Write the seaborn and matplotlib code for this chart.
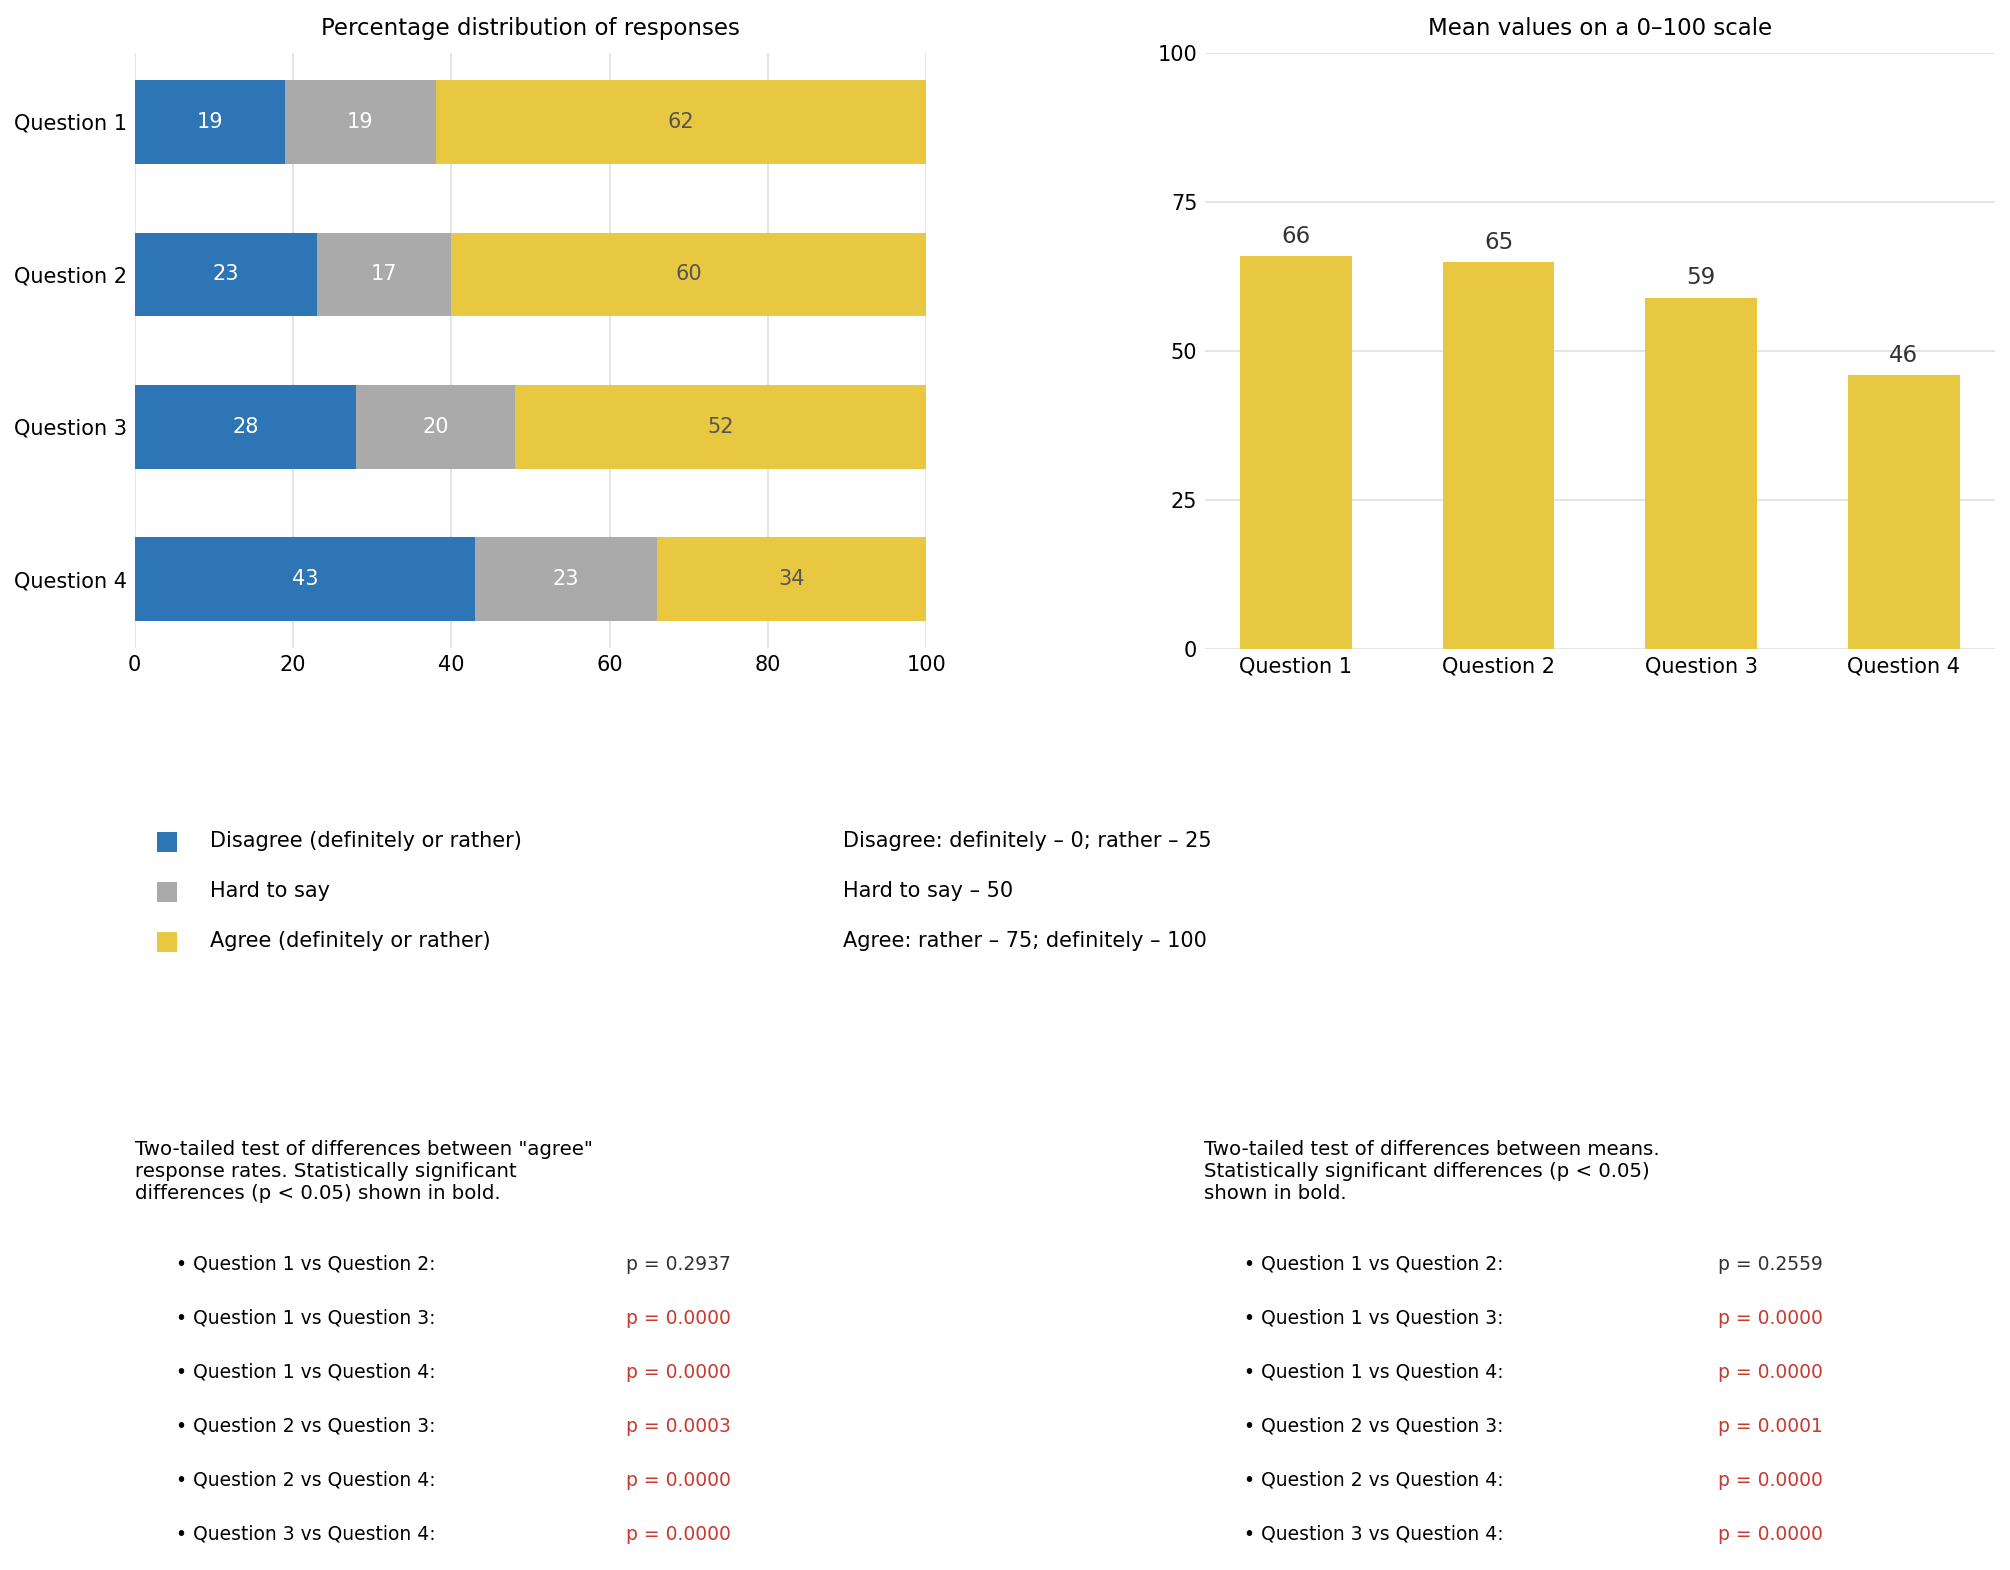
import numpy as np
import pandas as pd
import seaborn as sns
import matplotlib.pyplot as plt

# data
questions = ['Question 1', 'Question 2', 'Question 3', 'Question 4']
disagree = [19, 23, 28, 43]
hard_to_say = [19, 17, 20, 23]
agree = [62, 60, 52, 34]
means = [66, 65, 59, 46]

legend_labels = ['Disagree (definitely or rather)', 'Hard to say', 'Agree (definitely or rather)']
scale_labels = ['Disagree: definitely – 0; rather – 25', 'Hard to say – 50',
                'Agree: rather – 75; definitely – 100']

pairs = [('Question 1', 'Question 2'), ('Question 1', 'Question 3'), ('Question 1', 'Question 4'),
         ('Question 2', 'Question 3'), ('Question 2', 'Question 4'), ('Question 3', 'Question 4')]
p_agree = [0.2937, 0.0000, 0.0000, 0.0003, 0.0000, 0.0000]
p_means = [0.2559, 0.0000, 0.0000, 0.0001, 0.0000, 0.0000]

note_agree = ('Two-tailed test of differences between "agree"\n'
              'response rates. Statistically significant\n'
              'differences (p < 0.05) shown in bold.')
note_means = ('Two-tailed test of differences between means.\n'
              'Statistically significant differences (p < 0.05)\n'
              'shown in bold.')

BLUE = '#2E75B6'
GRAY = '#AAAAAA'
YELLOW = '#E8C840'
RED = '#C8392F'

sns.set_theme(style='whitegrid')
plt.rcParams['font.family'] = ['DejaVu Sans']
plt.rcParams['xtick.major.size'] = 0
plt.rcParams['ytick.major.size'] = 0
plt.rcParams['xtick.major.pad'] = 3.5
plt.rcParams['ytick.major.pad'] = 3.5

fig = plt.figure(figsize=(13.4, 10.4667), dpi=150)
fig.patch.set_facecolor('white')

# ---- left: stacked percentage bars
ax1 = fig.add_axes([0.0670, 0.5873, 0.3939, 0.3787])
df = pd.DataFrame({'question': questions, 'disagree': disagree,
                   'hard': hard_to_say, 'agree': agree})
df['c1'] = df['disagree']
df['c2'] = df['c1'] + df['hard']
df['c3'] = df['c2'] + df['agree']

for col, color in [('c3', YELLOW), ('c2', GRAY), ('c1', BLUE)]:
    sns.barplot(data=df, x=col, y='question', color=color, saturation=1,
                width=0.55, errorbar=None, linewidth=0, ax=ax1)

for i, row in df.iterrows():
    ax1.text(row['disagree'] / 2, i, f"{row['disagree']}", ha='center', va='center',
             color='white', fontsize=10)
    ax1.text(row['c1'] + row['hard'] / 2, i, f"{row['hard']}", ha='center', va='center',
             color='white', fontsize=10)
    ax1.text(row['c2'] + row['agree'] / 2, i, f"{row['agree']}", ha='center', va='center',
             color='#555555', fontsize=10)

ax1.set_xlim(0, 100)
ax1.set_ylim(3.45, -0.45)
ax1.set_xticks([0, 20, 40, 60, 80, 100])
ax1.set_xlabel('')
ax1.set_ylabel('')
ax1.grid(axis='x', color='#E0E0E0', linewidth=0.8)
ax1.grid(axis='y', visible=False)
ax1.set_axisbelow(True)
ax1.tick_params(labelsize=10, colors='black')
for s in ax1.spines.values():
    s.set_visible(False)
ax1.set_title('Percentage distribution of responses', fontsize=11, color='black', pad=9)

# ---- right: mean values
ax2 = fig.add_axes([0.5993, 0.5864, 0.3933, 0.3796])
mdf = pd.DataFrame({'question': questions, 'mean': means})
sns.barplot(data=mdf, x='question', y='mean', color=YELLOW, saturation=1,
            width=0.55, errorbar=None, linewidth=0, ax=ax2)
ax2.bar_label(ax2.containers[0], labels=[str(v) for v in means], padding=4,
              fontsize=11, color='#333333')
ax2.set_xlim(-0.45, 3.45)
ax2.set_ylim(0, 100)
ax2.set_yticks([0, 25, 50, 75, 100])
ax2.set_xlabel('')
ax2.set_ylabel('')
ax2.grid(axis='y', color='#E0E0E0', linewidth=0.8)
ax2.grid(axis='x', visible=False)
ax2.set_axisbelow(True)
ax2.tick_params(labelsize=10, colors='black')
for s in ax2.spines.values():
    s.set_visible(False)
ax2.set_title('Mean values on a 0–100 scale', fontsize=11, color='black', pad=9)

# ---- overlay in pixel coordinates for legend and notes
lax = fig.add_axes([0, 0, 1, 1], zorder=-1)
lax.set_xlim(0, 2010)
lax.set_ylim(1570, 0)
lax.axis('off')

legend_y = [841, 890.5, 940.5]
for y, color, lab, sc in zip(legend_y, [BLUE, GRAY, YELLOW], legend_labels, scale_labels):
    lax.scatter([166.7], [y + 1.5], marker='s', s=92, color=color, linewidths=0)
    lax.text(210.3, y, lab, ha='left', va='center', fontsize=10, color='black')
    lax.text(843, y, sc, ha='left', va='center', fontsize=10, color='black')

lax.text(135.5, 1140, note_agree, ha='left', va='top', fontsize=9.5, linespacing=1.2,
         color='black')
lax.text(1204.5, 1140, note_means, ha='left', va='top', fontsize=9.5, linespacing=1.2,
         color='black')

for i, (a, b) in enumerate(pairs):
    y = 1264.3 + 54 * i
    txt = f'• {a} vs {b}:'
    lax.text(176, y, txt, ha='left', va='center', fontsize=9, color='black')
    lax.text(1244, y, txt, ha='left', va='center', fontsize=9, color='black')
    pa, pm = p_agree[i], p_means[i]
    lax.text(626.5, y, f'p = {pa:.4f}', ha='left', va='center', fontsize=9,
             color=RED if pa < 0.05 else '#333333')
    lax.text(1718, y, f'p = {pm:.4f}', ha='left', va='center', fontsize=9,
             color=RED if pm < 0.05 else '#333333')

fig.savefig('out.png', dpi=150, facecolor='white')
